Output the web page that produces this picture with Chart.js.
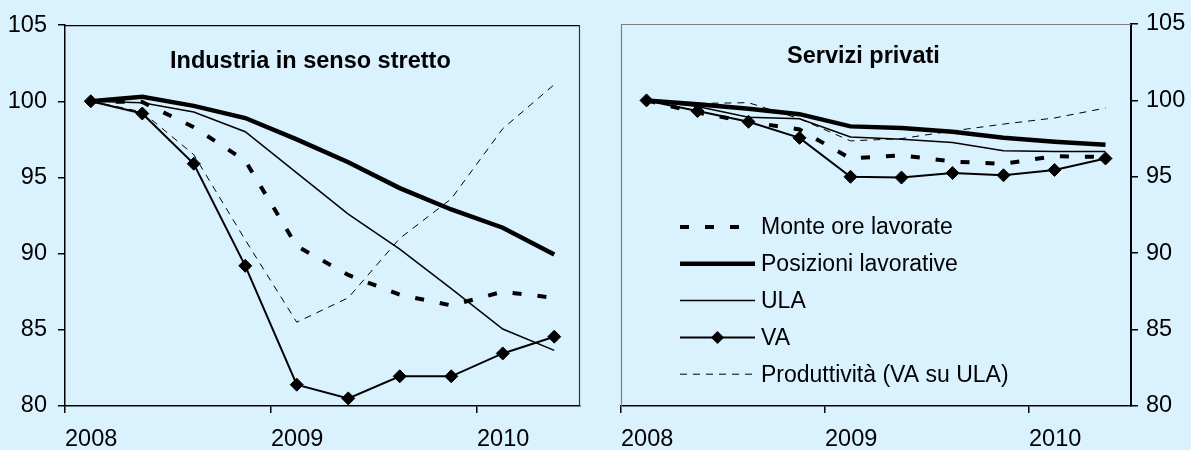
<!DOCTYPE html>
<html><head><meta charset="utf-8">
<script src="https://cdn.jsdelivr.net/npm/chart.js@4/dist/chart.umd.min.js"></script>
<style>
html,body{margin:0;padding:0;background:#daf1fe;}
#wrap{position:relative;width:1191px;height:450px;background:#daf1fe;overflow:hidden;}
#c1{position:absolute;left:0;top:0;width:600px;height:450px;}
#c2{position:absolute;left:600px;top:0;width:591px;height:450px;}
</style></head><body>
<div id="wrap"><div id="c1"><canvas id="a"></canvas></div><div id="c2"><canvas id="b"></canvas></div></div>
<script>
// ---- data ----
const quarters = ['2008T1','2008T2','2008T3','2008T4','2009T1','2009T2','2009T3','2009T4','2010T1','2010T2'];
const yearLabels = ['2008','2009','2010'];
const yMin = 80, yMax = 105, yStep = 5;
const seriesNames = ['Monte ore lavorate','Posizioni lavorative','ULA','VA','Produttività (VA su ULA)'];

const indMonte = [100, 99.95, 98.3, 96.1, 90.5, 88.6, 87.3, 86.6, 87.5, 87.1];
const indPosiz = [100, 100.3, 99.7, 98.9, 97.5, 96.0, 94.3, 92.9, 91.7, 89.95];
const indUla   = [100, 99.9, 99.3, 98.0, 95.3, 92.6, 90.3, 87.7, 85.05, 83.65];
const indVa    = [100, 99.2, 95.9, 89.2, 81.4, 80.5, 81.95, 81.95, 83.45, 84.55];
const indProd  = [100, 99.3, 96.5, 90.9, 85.5, 87.1, 91.0, 93.6, 98.2, 101.1];

const serMonte = [100, 99.2, 98.6, 98.1, 96.2, 96.4, 96.0, 95.85, 96.35, 96.3];
const serPosiz = [100, 99.75, 99.45, 99.1, 98.3, 98.2, 97.95, 97.55, 97.3, 97.1];
const serUla   = [100, 99.6, 98.9, 98.8, 97.6, 97.45, 97.25, 96.7, 96.65, 96.65];
const serVa    = [100, 99.3, 98.6, 97.55, 95.0, 94.95, 95.25, 95.1, 95.45, 96.2];
const serProd  = [100, 99.8, 99.85, 98.8, 97.35, 97.5, 98.0, 98.45, 98.85, 99.5];

// ---- helpers ----
const FONT = "'Liberation Sans', Arial, sans-serif";
const pts = arr => arr.map((v, i) => ({x: i + 0.5, y: v}));
const yearTicks = quarters.map((q, i) => q.endsWith('T1') ? i : null).filter(v => v !== null);

const styles = [
  {borderWidth: 4, borderDash: [9, 16], pointRadius: 0},
  {borderWidth: 4.5, pointRadius: 0},
  {borderWidth: 1.5, pointRadius: 0},
  {borderWidth: 2, pointRadius: 6.5, pointStyle: 'rectRot', pointBackgroundColor: '#000', pointBorderColor: '#000', pointBorderWidth: 1},
  {borderWidth: 1, borderDash: [7, 6], pointRadius: 0}
];

function makeDatasets(list) {
  return list.map((arr, k) => Object.assign({
    label: seriesNames[k], data: pts(arr), borderColor: '#000', backgroundColor: '#000',
    tension: 0, fill: false, borderCapStyle: 'butt', borderJoinStyle: 'miter', clip: false
  }, styles[k]));
}

const frame = {
  id: 'frame',
  beforeDatasetsDraw(chart, args, o) {
    const {ctx, chartArea: a} = chart;
    ctx.save();
    (o.edges || []).forEach(e => {
      ctx.beginPath();
      ctx.strokeStyle = e.color; ctx.lineWidth = e.width;
      if (e.side === 'top') { ctx.moveTo(a.left, a.top + 0.5); ctx.lineTo(a.right, a.top + 0.5); }
      if (e.side === 'right') { ctx.moveTo(a.right - 0.5, a.top); ctx.lineTo(a.right - 0.5, a.bottom); }
      if (e.side === 'left') { ctx.moveTo(a.left + 0.5, a.top); ctx.lineTo(a.left + 0.5, a.bottom); }
      ctx.stroke();
    });
    ctx.restore();
  },
  afterDraw(chart, args, o) {
    if (!o.title) return;
    const ctx = chart.ctx;
    ctx.save();
    ctx.font = 'bold 23.5px ' + FONT;
    ctx.fillStyle = '#000'; ctx.textAlign = 'left'; ctx.textBaseline = 'alphabetic';
    ctx.fillText(o.title, o.tx, o.ty);
    ctx.restore();
  }
};

const legendPlug = {
  id: 'legendIn',
  afterDraw(chart, args, o) {
    if (!o.show) return;
    const ctx = chart.ctx;
    ctx.save();
    chart.data.datasets.forEach((ds, i) => {
      const y = o.y0 + i * o.dy;
      ctx.beginPath();
      ctx.strokeStyle = '#000';
      ctx.lineWidth = ds.borderWidth;
      ctx.setLineDash(ds.borderDash || []);
      ctx.lineCap = 'butt';
      ctx.moveTo(o.x0, y); ctx.lineTo(o.x1, y);
      ctx.stroke();
      ctx.setLineDash([]);
      if (ds.pointStyle === 'rectRot') {
        const cx = (o.x0 + o.x1) / 2, r = ds.pointRadius;
        ctx.beginPath();
        ctx.moveTo(cx, y - r); ctx.lineTo(cx + r, y); ctx.lineTo(cx, y + r); ctx.lineTo(cx - r, y);
        ctx.closePath(); ctx.fillStyle = '#000'; ctx.fill();
      }
      ctx.font = '23px ' + FONT;
      ctx.fillStyle = '#000'; ctx.textAlign = 'left'; ctx.textBaseline = 'middle';
      ctx.fillText(ds.label, o.tx, y + 1);
    });
    ctx.restore();
  }
};

function makeChart(id, lists, side, pad, yWidth, yPad, frameOpts, legendOpts) {
  return new Chart(document.getElementById(id), {
    type: 'line',
    data: {datasets: makeDatasets(lists)},
    plugins: [frame, legendPlug],
    options: {
      responsive: true, maintainAspectRatio: false, animation: false, devicePixelRatio: 1,
      layout: {padding: pad},
      plugins: {legend: {display: false}, tooltip: {enabled: false}, frame: frameOpts, legendIn: legendOpts},
      scales: {
        x: {
          type: 'linear', min: 0, max: quarters.length,
          afterBuildTicks: s => { s.ticks = yearTicks.map(v => ({value: v})); },
          afterFit: s => { s.height = 44; },
          ticks: {align: 'start', padding: 12, maxRotation: 0, autoSkip: false, color: '#000',
            font: {family: FONT, size: 23.5},
            callback: v => yearLabels[yearTicks.indexOf(v)]},
          grid: {display: true, drawOnChartArea: false, drawTicks: true, tickLength: 7, color: '#000', lineWidth: 1.5},
          border: {display: true, color: '#000', width: 1.5}
        },
        y: {
          position: side, min: yMin, max: yMax,
          afterFit: s => { s.width = yWidth; },
          ticks: {stepSize: yStep, padding: yPad, color: '#000', font: {family: FONT, size: 23.5}},
          grid: {display: true, drawOnChartArea: false, drawTicks: true, tickLength: 7, color: '#000', lineWidth: 1.5},
          border: {display: true, color: '#000', width: side === 'right' ? 2 : 1.5}
        }
      }
    }
  });
}

makeChart('a', [indMonte, indPosiz, indUla, indVa, indProd], 'left',
  {top: 24, right: 20, left: 0, bottom: 0}, 65, 11,
  {edges: [{side: 'top', color: '#000', width: 1.2}, {side: 'right', color: '#333', width: 1.2}],
   title: 'Industria in senso stretto', tx: 170, ty: 68},
  {show: false});

makeChart('b', [serMonte, serPosiz, serUla, serVa, serProd], 'right',
  {top: 24, right: 0, left: 21, bottom: 0}, 60, 8,
  {edges: [{side: 'top', color: '#808080', width: 1.2}, {side: 'left', color: '#808080', width: 1.2}],
   title: 'Servizi privati', tx: 187, ty: 63},
  {show: true, x0: 80, x1: 155, tx: 161, y0: 227, dy: 36.8});
</script>
</body></html>
